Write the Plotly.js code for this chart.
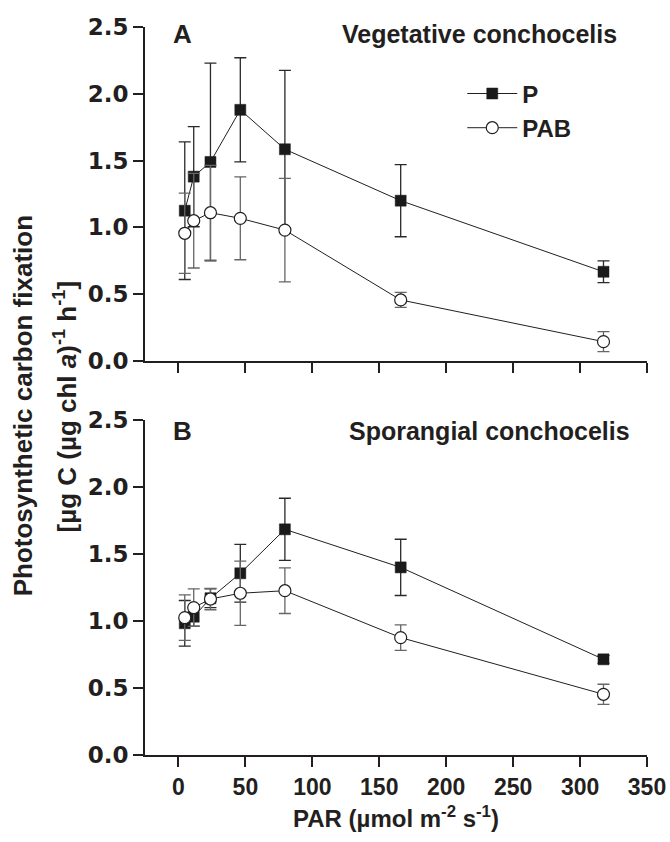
<!DOCTYPE html>
<html>
<head>
<meta charset="utf-8">
<script src="https://cdn.plot.ly/plotly-3.0.1.min.js"></script>
<style>html,body{margin:0;padding:0;background:#fff;}#chart{width:670px;height:842px;}</style>
</head>
<body>
<div id="chart"></div>
<script>
// PAR levels (µmol m-2 s-1)
var parLevels = [4.7, 11.4, 23.9, 46.2, 79.5, 166, 317.5];

// Panel A: vegetative conchocelis
var vegP      = [1.125, 1.38, 1.49, 1.88, 1.585, 1.20, 0.668];
var vegPErr   = [0.515, 0.375, 0.74, 0.39, 0.59, 0.27, 0.082];
var vegPAB    = [0.956, 1.05, 1.11, 1.068, 0.98, 0.457, 0.145];
var vegPABErr = [0.30, 0.354, 0.355, 0.31, 0.387, 0.056, 0.075];

// Panel B: sporangial conchocelis
var spoP      = [0.983, 1.032, 1.17, 1.356, 1.684, 1.40, 0.714];
var spoPErr   = [0.17, 0.07, 0.07, 0.216, 0.232, 0.21, 0.03];
var spoPAB    = [1.025, 1.10, 1.164, 1.207, 1.226, 0.876, 0.453];
var spoPABErr = [0.17, 0.14, 0.08, 0.24, 0.17, 0.095, 0.075];

var yTickVals = [0, 0.5, 1.0, 1.5, 2.0, 2.5];
var xTickVals = [0, 50, 100, 150, 200, 250, 300, 350];

var INK = '#231f20';
var FONT = 'Liberation Sans, Arial, sans-serif';

function pTrace(y, err, xa, ya, show) {
  return {
    x: parLevels, y: y, xaxis: xa, yaxis: ya, name: 'P', showlegend: show, legendgroup: 'P',
    type: 'scatter', mode: 'lines+markers',
    line: {color: INK, width: 1},
    marker: {symbol: 'square', size: 11, color: '#1a1a1a', line: {color: '#1a1a1a', width: 0.5}},
    error_y: {type: 'data', array: err, visible: true, color: '#2a2a2a', thickness: 1.3, width: 6}
  };
}
function pabTrace(y, err, xa, ya, show) {
  return {
    x: parLevels, y: y, xaxis: xa, yaxis: ya, name: 'PAB', showlegend: show, legendgroup: 'PAB',
    type: 'scatter', mode: 'lines+markers',
    line: {color: INK, width: 1},
    marker: {symbol: 'circle', size: 12, color: '#ffffff', line: {color: INK, width: 1.2}},
    error_y: {type: 'data', array: err, visible: true, color: '#666666', thickness: 1.3, width: 6}
  };
}

var data = [
  pTrace(vegP, vegPErr, 'x2', 'y2', true),
  pabTrace(vegPAB, vegPABErr, 'x2', 'y2', true),
  pTrace(spoP, spoPErr, 'x', 'y', false),
  pabTrace(spoPAB, spoPABErr, 'x', 'y', false)
];

var xTickFont = {family: FONT, size: 23, color: INK, weight: 'bold'};
var yTickFont = {family: 'DejaVu Sans, Liberation Sans, sans-serif', size: 23, color: INK, weight: 'bold'};

function yAxis(domain, anchor) {
  return {
    domain: domain, anchor: anchor, range: [0, 2.5], tickvals: yTickVals, tickformat: '.1f',
    showline: true, linewidth: 2, linecolor: INK, ticks: 'outside', ticklen: 10, tickwidth: 2, tickcolor: INK,
    showgrid: false, zeroline: false, tickfont: yTickFont, fixedrange: true
  };
}
function xAxis(anchor, labels) {
  return {
    anchor: anchor, range: [-25, 350], tickvals: xTickVals, showticklabels: labels,
    showline: true, linewidth: 2, linecolor: INK, ticks: 'outside', ticklen: 10, tickwidth: 2, tickcolor: INK,
    showgrid: false, zeroline: false, tickfont: xTickFont, fixedrange: true
  };
}

var xa = xAxis('y', true);
xa.title = {text: 'PAR (µmol m<sup>-2</sup> s<sup>-1</sup>)', font: {family: FONT, size: 24, color: INK, weight: 'bold'}, standoff: 12};

var layout = {
  width: 670, height: 842,
  margin: {l: 145, r: 23, t: 27, b: 87},
  paper_bgcolor: '#ffffff', plot_bgcolor: '#ffffff',
  showlegend: true,
  legend: {
    x: 0.632, y: 0.939, xanchor: 'left', yanchor: 'top',
    font: {family: FONT, size: 24, color: INK, weight: 'bold'},
    bgcolor: 'rgba(0,0,0,0)', borderwidth: 0, itemwidth: 50, tracegroupgap: 0
  },
  xaxis: xa,
  yaxis: yAxis([0, 0.4602], 'x'),
  xaxis2: xAxis('y2', false),
  yaxis2: yAxis([0.5412, 1], 'x2'),
  annotations: [
    {text: '<b>A</b>', xref: 'paper', yref: 'paper', x: 0.052, y: 0.99, xanchor: 'left', yanchor: 'middle', showarrow: false,
     font: {family: FONT, size: 26, color: INK}},
    {text: '<b>Vegetative conchocelis</b>', xref: 'paper', yref: 'paper', x: 0.666, y: 0.99, xanchor: 'center', yanchor: 'middle', showarrow: false,
     font: {family: FONT, size: 25, color: INK}},
    {text: '<b>B</b>', xref: 'paper', yref: 'paper', x: 0.052, y: 0.4455, xanchor: 'left', yanchor: 'middle', showarrow: false,
     font: {family: FONT, size: 26, color: INK}},
    {text: '<b>Sporangial conchocelis</b>', xref: 'paper', yref: 'paper', x: 0.686, y: 0.4455, xanchor: 'center', yanchor: 'middle', showarrow: false,
     font: {family: FONT, size: 25, color: INK}},
    {text: '<b>Photosynthetic carbon fixation</b>', xref: 'paper', yref: 'paper', x: -0.243, y: 0.479, xanchor: 'center', yanchor: 'middle',
     textangle: -90, showarrow: false, font: {family: FONT, size: 26, color: INK}},
    {text: '<b>[µg C (µg chl <i>a</i>)<sup>-1</sup> h<sup>-1</sup>]</b>', xref: 'paper', yref: 'paper', x: -0.159, y: 0.479, xanchor: 'center', yanchor: 'middle',
     textangle: -90, showarrow: false, font: {family: FONT, size: 26, color: INK}}
  ]
};

Plotly.newPlot('chart', data, layout, {displayModeBar: false, staticPlot: true});
</script>
</body>
</html>
